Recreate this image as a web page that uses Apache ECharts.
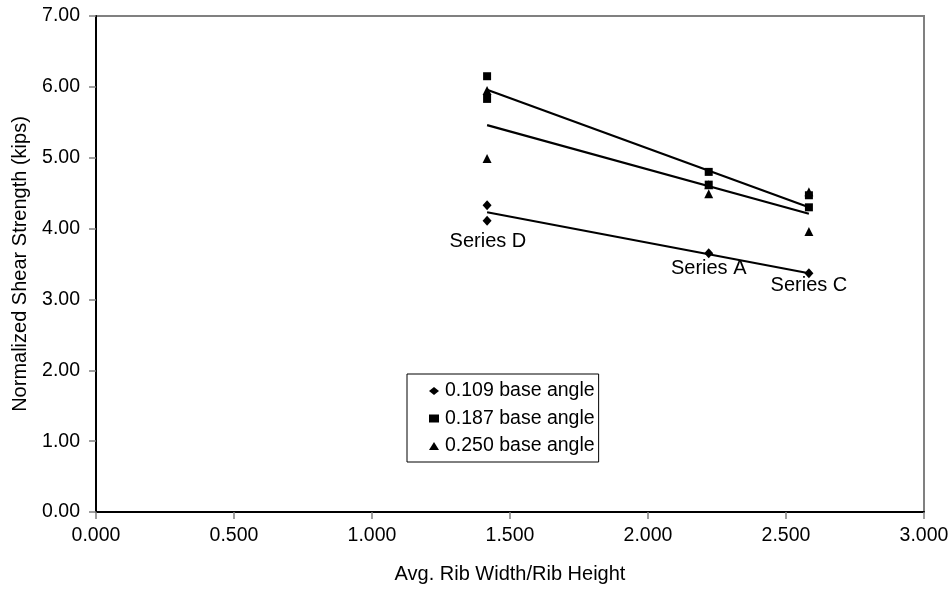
<!DOCTYPE html>
<html>
<head>
<meta charset="utf-8">
<script src="https://cdn.jsdelivr.net/npm/echarts@6/dist/echarts.min.js"></script>
<style>html,body{margin:0;padding:0;background:#fff;}#c{width:952px;height:590px;}</style>
</head>
<body>
<div id="c"></div>
<script>
const xTicks = [0, 0.5, 1, 1.5, 2, 2.5, 3];
const seriesNames = ['0.109 base angle', '0.187 base angle', '0.250 base angle'];
const pts109 = [[1.417, 4.33], [1.417, 4.11], [2.22, 3.65], [2.583, 3.37]];
const pts187 = [[1.417, 6.15], [1.417, 5.83], [2.22, 4.80], [2.22, 4.62], [2.583, 4.47], [2.583, 4.30]];
const pts250 = [[1.417, 5.95], [1.417, 4.99], [2.22, 4.62], [2.22, 4.49], [2.583, 4.52], [2.583, 3.96]];
const trend109 = [[1.417, 4.23], [2.583, 3.37]];
const trend187 = [[1.417, 5.96], [2.583, 4.30]];
const trend250 = [[1.417, 5.46], [2.583, 4.21]];
const annotations = [['Series D', 1.42, 3.82], ['Series A', 2.22, 3.44], ['Series C', 2.583, 3.20]];

const font = 'Liberation Sans, Arial, sans-serif';
const fs = 19.5;
const chart = echarts.init(document.getElementById('c'), null, {renderer: 'canvas'});
const trendStyle = {color: '#000', width: 2.2};
chart.setOption({
  animation: false,
  backgroundColor: '#fff',
  textStyle: {fontFamily: font},
  grid: {left: 96, top: 16, right: 28, bottom: 78, show: true, borderColor: '#808080', borderWidth: 2},
  legend: {
    data: seriesNames.map(n => ({name: n})),
    orient: 'vertical',
    left: 407, top: 374,
    borderColor: '#000', borderWidth: 1,
    padding: [7, 4, 6, 22],
    itemGap: 7.5,
    itemWidth: 10, itemHeight: 8,
    textStyle: {fontFamily: font, fontSize: fs, color: '#000', padding: [0, 0, 0, 1]}
  },
  xAxis: {
    type: 'value', min: 0, max: 3, interval: 0.5,
    name: 'Avg. Rib Width/Rib Height', nameLocation: 'middle', nameGap: 52,
    nameTextStyle: {fontFamily: font, fontSize: 20, color: '#000'},
    axisLine: {lineStyle: {color: '#000', width: 2}},
    axisTick: {show: true, length: 7, lineStyle: {color: '#808080', width: 1.5}},
    splitLine: {show: false},
    axisLabel: {fontFamily: font, fontSize: fs, color: '#000', margin: 14, formatter: v => v.toFixed(3)}
  },
  yAxis: {
    type: 'value', min: 0, max: 7, interval: 1,
    name: 'Normalized Shear Strength (kips)', nameLocation: 'middle', nameGap: 66,
    nameTextStyle: {fontFamily: font, fontSize: 20, color: '#000'},
    axisLine: {show: true, lineStyle: {color: '#000', width: 2}},
    axisTick: {show: true, length: 7, lineStyle: {color: '#808080', width: 1.5}},
    splitLine: {show: false},
    axisLabel: {fontFamily: font, fontSize: fs, color: '#000', margin: 16, formatter: v => v.toFixed(2)}
  },
  series: [
    {type: 'line', data: trend109, symbol: 'none', lineStyle: trendStyle, silent: true, z: 2},
    {type: 'line', data: trend187, symbol: 'none', lineStyle: trendStyle, silent: true, z: 2},
    {type: 'line', data: trend250, symbol: 'none', lineStyle: trendStyle, silent: true, z: 2},
    {name: seriesNames[0], type: 'scatter', data: pts109, symbol: 'diamond', symbolSize: [9, 10], itemStyle: {color: '#000', opacity: 1}, z: 3},
    {name: seriesNames[1], type: 'scatter', data: pts187, symbol: 'rect', symbolSize: 8, itemStyle: {color: '#000', opacity: 1}, z: 3},
    {name: seriesNames[2], type: 'scatter', data: pts250, symbol: 'triangle', symbolSize: 9, itemStyle: {color: '#000', opacity: 1}, z: 3},
    {type: 'scatter', data: annotations.map(a => ({value: [a[1], a[2]], name: a[0]})), symbolSize: 0, silent: true,
     itemStyle: {opacity: 1, color: '#000'},
     label: {show: true, position: 'inside', formatter: p => p.name, fontFamily: font, fontSize: 20, color: '#000', opacity: 1, textBorderWidth: 0}}
  ]
});
</script>
</body>
</html>
